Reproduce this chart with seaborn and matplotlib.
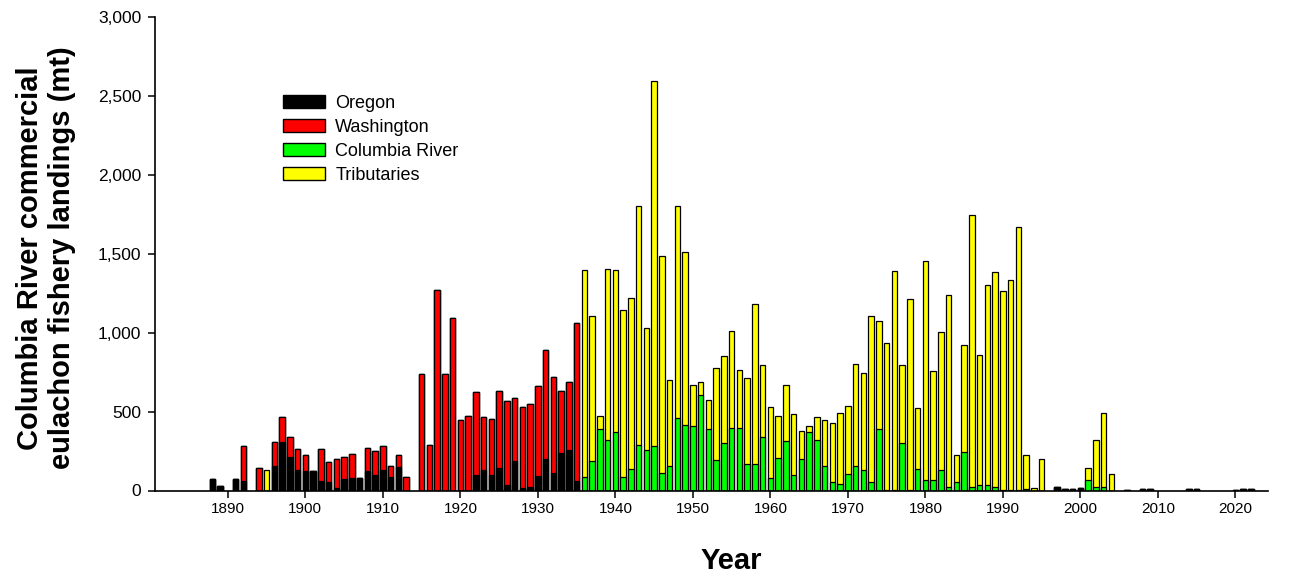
import numpy as np
import pandas as pd
import matplotlib
matplotlib.use("Agg")
import matplotlib.pyplot as plt
import seaborn as sns
from matplotlib.ticker import FuncFormatter
from matplotlib.patches import Patch

years = [1888, 1889, 1891, 1892, 1894, 1895, 1896, 1897, 1898, 1899,
         1900, 1901, 1902, 1903, 1904, 1905, 1906, 1907, 1908, 1909,
         1910, 1911, 1912, 1913, 1915, 1916, 1917, 1918, 1919,
         1920, 1921, 1922, 1923, 1924, 1925, 1926, 1927, 1928, 1929,
         1930, 1931, 1932, 1933, 1934, 1935, 1936, 1937, 1938, 1939,
         1940, 1941, 1942, 1943, 1944, 1945, 1946, 1947, 1948, 1949,
         1950, 1951, 1952, 1953, 1954, 1955, 1956, 1957, 1958, 1959,
         1960, 1961, 1962, 1963, 1964, 1965, 1966, 1967, 1968, 1969,
         1970, 1971, 1972, 1973, 1974, 1975, 1976, 1977, 1978, 1979,
         1980, 1981, 1982, 1983, 1984, 1985, 1986, 1987, 1988, 1989,
         1990, 1991, 1992, 1993, 1994, 1995, 1997, 1998, 1999,
         2000, 2001, 2002, 2003, 2004, 2006, 2008, 2009,
         2014, 2015, 2020, 2021, 2022]

oregon = [70, 30, 70, 60, 0, 0, 158, 310, 210, 128,
          122, 122, 60, 51, 15, 72, 78, 78, 122, 101,
          131, 84, 152, 0, 0, 0, 0, 0, 0,
          0, 0, 99, 127, 101, 141, 32, 188, 17, 21,
          91, 198, 110, 237, 258, 63, 0, 0, 0, 0,
          0, 0, 0, 0, 0, 0, 0, 0, 0, 0,
          0, 0, 0, 0, 0, 0, 0, 0, 0, 0,
          0, 0, 0, 0, 0, 0, 0, 0, 0, 0,
          0, 0, 0, 0, 0, 0, 0, 0, 0, 0,
          0, 0, 0, 0, 0, 0, 0, 0, 0, 0,
          0, 0, 0, 0, 0, 0, 25, 7, 10,
          13, 0, 0, 0, 0, 4, 10, 10,
          9, 9, 5, 7, 10]

washington = [0, 0, 0, 225, 140, 0, 152, 156, 127, 132,
              101, 0, 200, 131, 183, 143, 152, 0, 150, 150,
              149, 74, 72, 88, 738, 290, 1272, 738, 1090,
              446, 474, 522, 340, 353, 491, 538, 401, 515, 528,
              568, 694, 610, 393, 429, 998, 0, 0, 0, 0,
              0, 0, 0, 0, 0, 0, 0, 0, 0, 0,
              0, 0, 0, 0, 0, 0, 0, 0, 0, 0,
              0, 0, 0, 0, 0, 0, 0, 0, 0, 0,
              0, 0, 0, 0, 0, 0, 0, 0, 0, 0,
              0, 0, 0, 0, 0, 0, 0, 0, 0, 0,
              0, 0, 0, 0, 0, 0, 0, 0, 0,
              0, 0, 0, 0, 0, 0, 0, 0,
              0, 0, 0, 0, 0]

columbia = [0, 0, 0, 0, 0, 0, 0, 0, 0, 0,
            0, 0, 0, 0, 0, 0, 0, 0, 0, 0,
            0, 0, 0, 0, 0, 0, 0, 0, 0,
            0, 0, 0, 0, 0, 0, 0, 0, 0, 0,
            0, 0, 0, 0, 0, 0, 84, 190, 389, 321,
            368, 84, 135, 287, 258, 279, 110, 154, 461, 418,
            406, 607, 389, 192, 304, 397, 397, 165, 165, 338,
            80, 207, 311, 97, 198, 372, 321, 156, 57, 42,
            103, 158, 131, 57, 389, 5, 3, 300, 2, 135,
            68, 68, 131, 21, 53, 241, 21, 32, 32, 21,
            5, 3, 2, 8, 0, 0, 0, 0, 0,
            0, 68, 21, 25, 0, 0, 0, 0,
            0, 0, 0, 0, 0]

tributaries = [0, 0, 0, 0, 0, 133, 0, 0, 0, 0,
               0, 0, 0, 0, 0, 0, 0, 0, 0, 0,
               0, 0, 0, 0, 0, 0, 0, 0, 0,
               0, 0, 0, 0, 0, 0, 0, 0, 0, 0,
               0, 0, 0, 0, 0, 0, 1315, 917, 84, 1082,
               1027, 1062, 1084, 1513, 773, 2316, 1376, 543, 1339, 1093,
               262, 78, 186, 586, 550, 615, 364, 549, 1018, 456,
               452, 266, 357, 387, 182, 38, 146, 292, 370, 448,
               434, 645, 611, 1046, 682, 931, 1390, 494, 1211, 389,
               1385, 686, 871, 1217, 171, 680, 1722, 826, 1272, 1365,
               1256, 1332, 1667, 220, 19, 197, 0, 0, 0,
               0, 73, 302, 465, 106, 0, 0, 0,
               0, 0, 0, 0, 0]

series_names = ["Oregon", "Washington", "Columbia River", "Tributaries"]
series_colors = ["#000000", "#ff0000", "#00ff00", "#ffff00"]
x_ticks = [1890, 1900, 1910, 1920, 1930, 1940, 1950, 1960, 1970, 1980, 1990, 2000, 2010, 2020]
y_ticks = [0, 500, 1000, 1500, 2000, 2500, 3000]

sns.set_style("ticks")
plt.rcParams['font.family'] = ['Liberation Sans', 'DejaVu Sans']
plt.rcParams['text.color'] = 'black'
plt.rcParams['axes.labelcolor'] = 'black'

W, H = 1289, 575
fig = plt.figure(figsize=(W / 100, H / 100), dpi=100)
ax = fig.add_axes([155 / W, 1 - 490.5 / H, (1268 - 155) / W, (490.5 - 17) / H])

df = pd.DataFrame({"year": years, "Oregon": oregon, "Washington": washington,
                   "Columbia River": columbia, "Tributaries": tributaries})
cum = df[series_names].cumsum(axis=1)

for name, col in reversed(list(zip(series_names, series_colors))):
    sns.barplot(x=df["year"], y=cum[name], native_scale=True, color=col,
                saturation=1, edgecolor="black", linewidth=0.9, width=0.72,
                errorbar=None, ax=ax)

ax.set_xlim(1880.6, 2024.2)
ax.set_ylim(0, 3000)
ax.set_xticks(x_ticks)
ax.set_yticks(y_ticks)
ax.yaxis.set_major_formatter(FuncFormatter(lambda v, p: f"{int(v):,}"))
ax.set_xlabel("")
ax.set_ylabel("")
ax.tick_params(axis="both", length=5, width=1.1, colors="black", direction="out")
ax.tick_params(axis="y", pad=5, labelsize=12.5)
ax.tick_params(axis="x", pad=3, labelsize=11)
for s in ["top", "right"]:
    ax.spines[s].set_visible(False)
for s in ["left", "bottom"]:
    ax.spines[s].set_linewidth(1.2)
    ax.spines[s].set_color("black")

handles = [Patch(facecolor=c, edgecolor="black", linewidth=1.0) for c in series_colors]
fig.legend(handles, series_names, loc="upper left",
           bbox_to_anchor=(283 / W, 1 - 95 / H), frameon=False, fontsize=13,
           handlelength=2.3, handleheight=0.72, handletextpad=0.6,
           labelspacing=0.38, borderpad=0, borderaxespad=0, labelcolor="black")

fig.text(46 / W, 1 - 258 / H, "Columbia River commercial\neulachon fishery landings (mt)",
         rotation=90, ha="center", va="center", fontsize=21, fontweight="bold",
         linespacing=1.15, multialignment="center", color="black")
fig.text(731 / W, 1 - 561 / H, "Year", ha="center", va="center",
         fontsize=21, fontweight="bold", color="black")

fig.savefig("out.png", dpi=100)
